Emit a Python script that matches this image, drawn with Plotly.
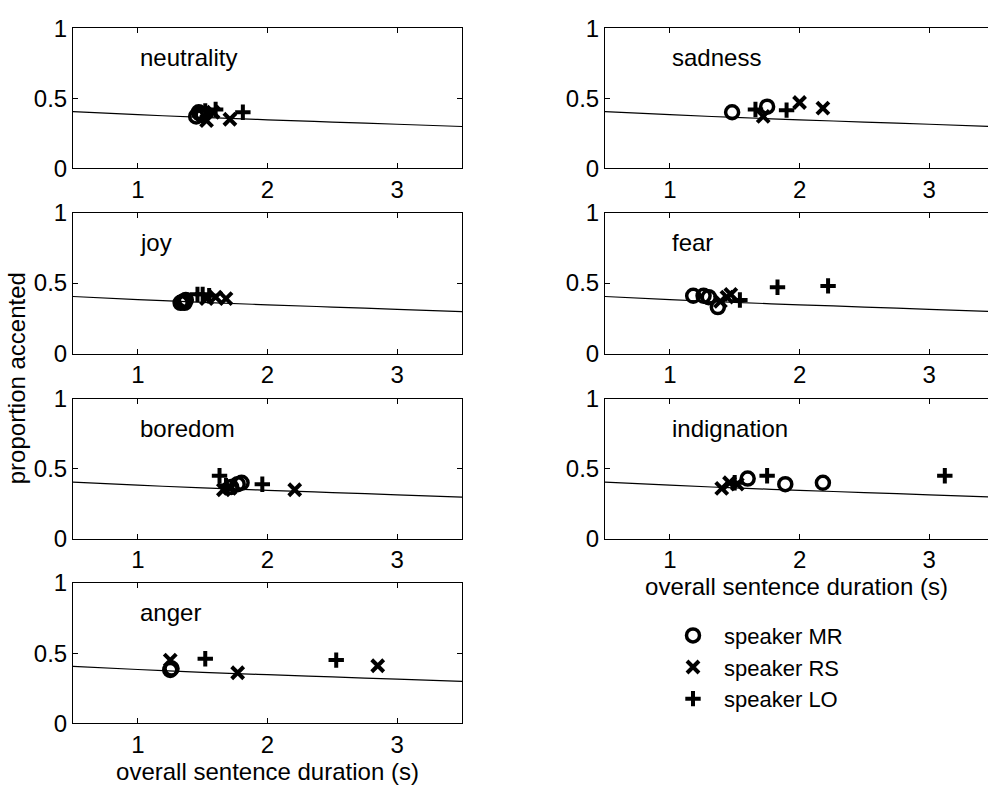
import plotly.graph_objects as go

# ---------------- data ----------------
emotions = ["neutrality", "joy", "boredom", "anger", "sadness", "fear", "indignation"]

# speaker MR (circles)
mr_x = {
    "neutrality": [1.45, 1.48, 1.50, 1.47],
    "joy": [1.33, 1.35, 1.37, 1.36],
    "boredom": [1.72, 1.77, 1.80],
    "anger": [1.25, 1.26],
    "sadness": [1.48, 1.75],
    "fear": [1.18, 1.26, 1.30, 1.37],
    "indignation": [1.60, 1.89, 2.18],
}
mr_y = {
    "neutrality": [0.37, 0.39, 0.38, 0.40],
    "joy": [0.36, 0.37, 0.38, 0.36],
    "boredom": [0.37, 0.39, 0.40],
    "anger": [0.38, 0.39],
    "sadness": [0.40, 0.44],
    "fear": [0.41, 0.41, 0.40, 0.33],
    "indignation": [0.43, 0.39, 0.40],
}
# speaker RS (crosses)
rs_x = {
    "neutrality": [1.53, 1.58, 1.71],
    "joy": [1.53, 1.60, 1.68],
    "boredom": [1.66, 1.71, 2.21],
    "anger": [1.25, 1.77, 2.85],
    "sadness": [1.72, 2.00, 2.18],
    "fear": [1.39, 1.44, 1.47],
    "indignation": [1.40, 1.46, 1.52],
}
rs_y = {
    "neutrality": [0.34, 0.40, 0.35],
    "joy": [0.39, 0.40, 0.39],
    "boredom": [0.35, 0.36, 0.35],
    "anger": [0.45, 0.36, 0.41],
    "sadness": [0.37, 0.47, 0.43],
    "fear": [0.37, 0.40, 0.42],
    "indignation": [0.36, 0.40, 0.39],
}
# speaker LO (plus)
lo_x = {
    "neutrality": [1.52, 1.60, 1.81],
    "joy": [1.46, 1.50, 1.55],
    "boredom": [1.63, 1.68, 1.96],
    "anger": [1.52, 2.53],
    "sadness": [1.66, 1.90],
    "fear": [1.54, 1.83, 2.22],
    "indignation": [1.50, 1.75, 3.12],
}
lo_y = {
    "neutrality": [0.41, 0.42, 0.40],
    "joy": [0.42, 0.42, 0.41],
    "boredom": [0.45, 0.38, 0.39],
    "anger": [0.46, 0.45],
    "sadness": [0.42, 0.415],
    "fear": [0.38, 0.47, 0.48],
    "indignation": [0.40, 0.45, 0.45],
}

# regression curve (same in every panel)
fit_x = [0.5, 1.0, 1.5, 2.0, 2.5, 3.0, 3.5]
fit_y = [0.405, 0.383, 0.363, 0.346, 0.330, 0.314, 0.298]

x_ticks = [1, 2, 3]
y_ticks = [0, 0.5, 1]
y_tick_text = ["0", "0.5", "1"]
speakers = ["speaker MR", "speaker RS", "speaker LO"]
x_title = "overall sentence duration (s)"
y_title = "proportion accented"

# ---------------- layout geometry ----------------
W, H = 988, 798
FONT = "Liberation Sans, Arial, Helvetica, sans-serif"
FS = 24

left_dom = [73 / W, 462 / W]
right_dom = [605 / W, 1.0]
left_range = [0.5, 3.5]
right_range = [0.5, 0.5 + (W - 605) / 129.7]
row_px = [(15, 159.5), (205.5, 351.5), (398.5, 543), (589, 734)]

placement = {
    "neutrality": (0, 0), "joy": (0, 1), "boredom": (0, 2), "anger": (0, 3),
    "sadness": (1, 0), "fear": (1, 1), "indignation": (1, 2),
}

fig = go.Figure()
layout = dict(
    width=W, height=H,
    margin=dict(l=0, r=0, t=0, b=0),
    paper_bgcolor="white", plot_bgcolor="white",
    font=dict(family=FONT, size=FS, color="black"),
    showlegend=True,
    legend=dict(x=662 / W, y=1 - 676 / H, xanchor="left", yanchor="middle",
                font=dict(size=22), bgcolor="rgba(0,0,0,0)",
                itemwidth=52, tracegroupgap=0),
)
annotations = []

marker_styles = [
    dict(symbol="circle-open", size=13, line=dict(width=3.5, color="black"), color="black"),
    dict(symbol="x-thin-open", size=12, line=dict(width=4, color="black"), color="black"),
    dict(symbol="cross-thin-open", size=11, line=dict(width=4, color="black"), color="black"),
]

for i, emo in enumerate(emotions):
    col, row = placement[emo]
    n = i + 1
    xa = "x" if n == 1 else f"x{n}"
    ya = "y" if n == 1 else f"y{n}"
    top, bot = row_px[row]
    xdom = left_dom if col == 0 else right_dom
    xrng = left_range if col == 0 else right_range
    ydom = [1 - bot / H, 1 - top / H]
    is_bottom = (emo in ("anger", "indignation"))

    layout["xaxis" if n == 1 else f"xaxis{n}"] = dict(
        domain=xdom, range=xrng, anchor=ya,
        tickvals=x_ticks, ticks="inside", ticklen=5, tickcolor="black",
        showline=True, linecolor="black", linewidth=1, mirror="allticks",
        showgrid=False, zeroline=False,
        tickfont=dict(size=FS),
        title=dict(text=x_title if is_bottom else "", font=dict(size=FS), standoff=4),
        fixedrange=True,
    )
    layout["yaxis" if n == 1 else f"yaxis{n}"] = dict(
        domain=ydom, range=[0, 1], anchor=xa,
        tickvals=y_ticks, ticktext=y_tick_text, ticks="inside", ticklen=5,
        tickcolor="black",
        showline=True, linecolor="black", linewidth=1,
        mirror="allticks" if col == 0 else False,
        showgrid=False, zeroline=False, tickfont=dict(size=FS),
        fixedrange=True,
    )

    fig.add_trace(go.Scatter(x=fit_x, y=fit_y, mode="lines",
                             line=dict(color="black", width=1.2, shape="spline"),
                             xaxis=xa, yaxis=ya, showlegend=False, hoverinfo="skip"))
    for k, (xs, ys) in enumerate([(mr_x, mr_y), (rs_x, rs_y), (lo_x, lo_y)]):
        fig.add_trace(go.Scatter(x=xs[emo], y=ys[emo], mode="markers",
                                 marker=marker_styles[k], name=speakers[k],
                                 legendgroup=speakers[k], showlegend=(i == 0),
                                 xaxis=xa, yaxis=ya, cliponaxis=False))

    annotations.append(dict(text=emo, x=1.0, y=0.79, xref=xa, yref=ya,
                            xanchor="left", yanchor="middle", showarrow=False,
                            font=dict(size=FS)))

annotations.append(dict(text=y_title, x=16 / W, y=1 - 377 / H, xref="paper", yref="paper",
                        textangle=-90, xanchor="center", yanchor="middle",
                        showarrow=False, font=dict(size=FS)))
layout["annotations"] = annotations
fig.update_layout(**layout)
fig.write_html("out.html")
